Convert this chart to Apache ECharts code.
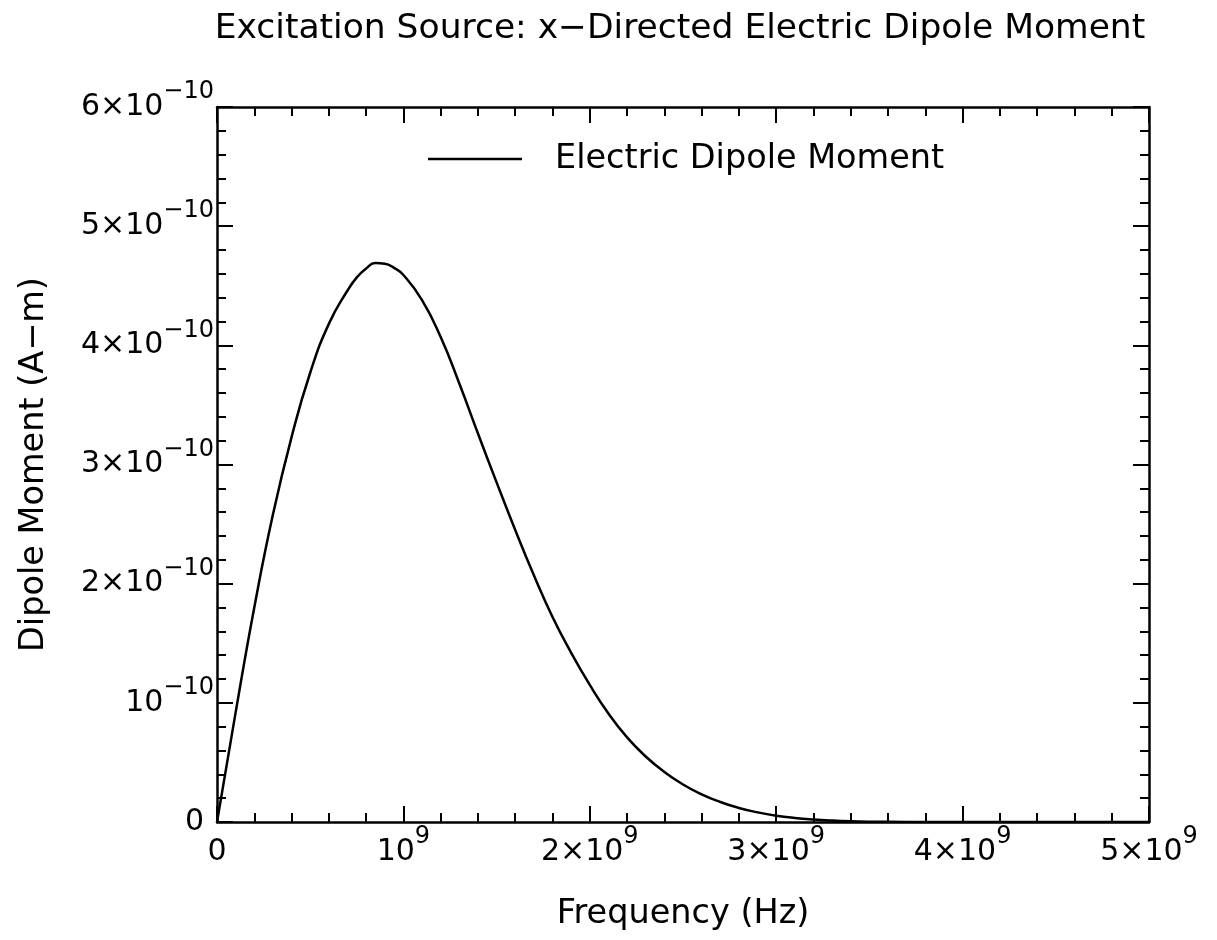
<!DOCTYPE html>
<html>
<head>
<meta charset="utf-8">
<script src="https://cdn.jsdelivr.net/npm/echarts@6/dist/echarts.min.js"></script>
<style>
html,body{margin:0;padding:0;background:#fff;}
#chart{width:1217px;height:940px;}
</style>
</head>
<body>
<div id="chart"></div>
<script>
// ---- data ----
var freqHz = [0, 0.1e9, 0.2e9, 0.3e9, 0.4e9, 0.5e9, 0.6e9, 0.7e9, 0.75e9, 0.8e9,
  0.85e9, 0.9e9, 0.95e9, 1.0e9, 1.1e9, 1.2e9, 1.3e9, 1.4e9, 1.5e9, 1.6e9, 1.7e9, 1.8e9,
  1.9e9, 2.0e9, 2.1e9, 2.2e9, 2.3e9, 2.4e9, 2.5e9, 2.6e9, 2.7e9, 2.8e9,
  2.9e9, 3.0e9, 3.1e9, 3.2e9, 3.3e9, 3.4e9, 3.5e9, 3.7e9, 4.0e9, 5.0e9];
var dipoleAm = [0, 0.92e-10, 1.80e-10, 2.58e-10, 3.23e-10, 3.77e-10, 4.18e-10, 4.46e-10, 4.57e-10, 4.645e-10,
  4.69e-10, 4.685e-10, 4.65e-10, 4.59e-10, 4.38e-10, 4.07e-10, 3.68e-10, 3.26e-10, 2.85e-10, 2.45e-10, 2.07e-10, 1.72e-10,
  1.42e-10, 1.15e-10, 0.91e-10, 0.71e-10, 0.55e-10, 0.42e-10, 0.315e-10, 0.232e-10, 0.168e-10, 0.118e-10,
  0.081e-10, 0.053e-10, 0.034e-10, 0.021e-10, 0.012e-10, 0.006e-10, 0.003e-10, 0.001e-10, 0, 0];

var xTickBase = ['0', '10', '2×10', '3×10', '4×10', '5×10'];
var xTickExp  = ['', '9', '9', '9', '9', '9'];
var yTickBase = ['0', '10', '2×10', '3×10', '4×10', '5×10', '6×10'];
var yTickExp  = ['', '−10', '−10', '−10', '−10', '−10', '−10'];

var titleText = 'Excitation Source: x\u2212Directed Electric Dipole Moment';
var xName = 'Frequency (Hz)';
var yName = 'Dipole Moment (A\u2212m)';
var seriesName = 'Electric Dipole Moment';

// ---- chart ----
var FONT = 'DejaVu Sans';
var chart = echarts.init(document.getElementById('chart'), null, {renderer: 'canvas'});
var pts = freqHz.map(function (f, i) { return [f, dipoleAm[i]]; });

var richBase = {
  b: {fontFamily: FONT, fontSize: 30, lineHeight: 54, color: '#000'},
  s: {fontFamily: FONT, fontSize: 24, lineHeight: 24, padding: [0, 0, 30, 0], color: '#000'},
  z: {fontFamily: FONT, fontSize: 30, lineHeight: 54, color: '#000', padding: [0, 10, 0, 0]}
};

function tickStyle() {
  return {
    axisLine: {show: true, onZero: false, lineStyle: {color: '#000', width: 2.5}},
    axisTick: {show: true, inside: true, length: 16, lineStyle: {color: '#000', width: 2}},
    minorTick: {show: true, splitNumber: 5, length: 9, lineStyle: {color: '#000', width: 2}},
    splitLine: {show: false},
    minorSplitLine: {show: false}
  };
}

var xMain = Object.assign(tickStyle(), {
  type: 'value', position: 'bottom', min: 0, max: 5e9, interval: 1e9,
  name: xName, nameLocation: 'middle', nameGap: 75,
  nameTextStyle: {fontFamily: FONT, fontSize: 33.5, color: '#000'},
  axisLabel: {
    show: true, margin: 3, color: '#000', rich: richBase,
    formatter: function (v) {
      var i = Math.round(v / 1e9);
      if (!xTickExp[i]) return '{b|' + xTickBase[i] + '}';
      return '{b|' + xTickBase[i] + '}{s|' + xTickExp[i] + '}';
    }
  }
});
var xTop = Object.assign(tickStyle(), {
  type: 'value', position: 'top', min: 0, max: 5e9, interval: 1e9, axisLabel: {show: false}
});
var yMain = Object.assign(tickStyle(), {
  type: 'value', position: 'left', min: 0, max: 6e-10, interval: 1e-10,
  name: yName, nameLocation: 'middle', nameGap: 166, nameRotate: 90,
  nameTextStyle: {fontFamily: FONT, fontSize: 33.5, color: '#000'},
  axisLabel: {
    show: true, margin: 3, color: '#000', rich: richBase,
    formatter: function (v) {
      var i = Math.round(v / 1e-10);
      if (!yTickExp[i]) return '{z|' + yTickBase[i] + '}';
      return '{b|' + yTickBase[i] + '}{s|' + yTickExp[i] + '}';
    }
  }
});
var yRight = Object.assign(tickStyle(), {
  type: 'value', position: 'right', min: 0, max: 6e-10, interval: 1e-10, axisLabel: {show: false}
});

chart.setOption({
  backgroundColor: '#fff',
  animation: false,
  grid: {left: 217, right: 68, top: 107, bottom: 118, containLabel: false},
  xAxis: [xMain, xTop],
  yAxis: [yMain, yRight],
  legend: {
    show: true, left: 428, top: 142, padding: 0, icon: 'rect', itemWidth: 94, itemHeight: 2.5,
    data: [seriesName],
    textStyle: {fontFamily: FONT, fontSize: 33.5, color: '#000', padding: [0, 0, 0, 28]}
  },
  graphic: [{
    type: 'text', x: 680, y: 29,
    style: {text: titleText, fontFamily: FONT, fontSize: 34.5, fill: '#000',
            textAlign: 'center', textVerticalAlign: 'middle'}
  }],
  series: [{
    name: seriesName, type: 'line', xAxisIndex: 0, yAxisIndex: 0,
    data: pts, smooth: 0.5, symbol: 'none', showSymbol: false,
    lineStyle: {color: '#000', width: 2.5}, itemStyle: {color: '#000'}
  }]
});
</script>
</body>
</html>
